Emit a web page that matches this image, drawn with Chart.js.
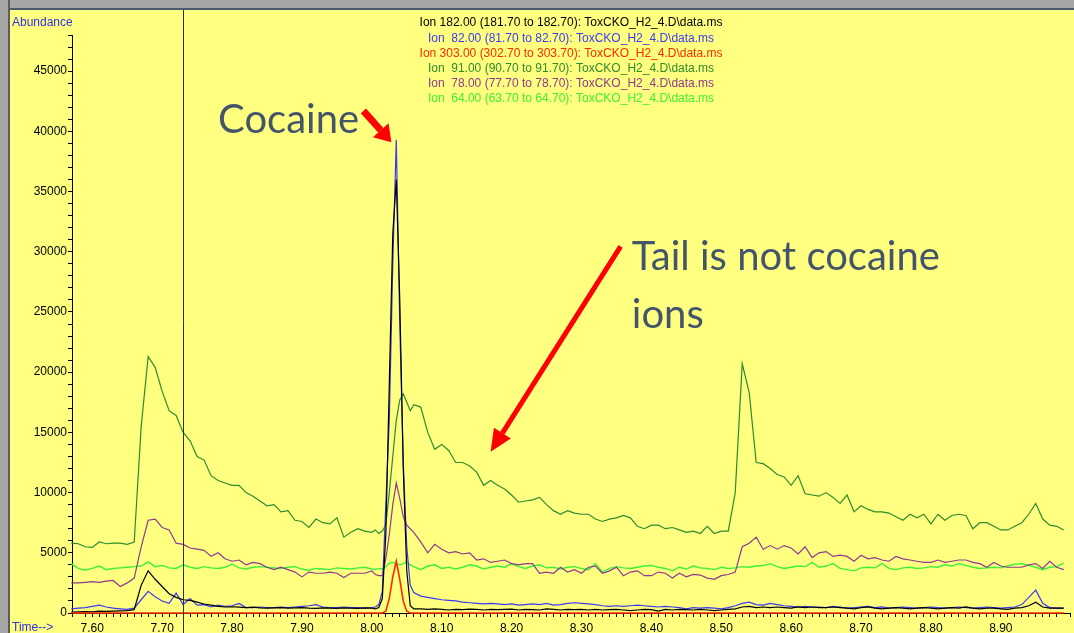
<!DOCTYPE html>
<html>
<head>
<meta charset="utf-8">
<title>Ion chromatogram - ToxCKO_H2_4</title>
<script src="https://cdn.jsdelivr.net/npm/chart.js@4/dist/chart.umd.min.js"></script>
<style>
  body { margin: 0; background: #ffff80; }
  #wrap { position: relative; width: 1074px; height: 633px; overflow: hidden; }
  #chart { position: absolute; left: 0; top: 0; background: #ffff80; }
  .frameTop { position: absolute; left: 0; top: 0; width: 1074px; height: 8px; background: #a6a6a6; border-bottom: 2px solid #4a5870; }
  .frameLeft { position: absolute; left: 0; top: 0; width: 8px; height: 633px; background: #a6a6a6; border-right: 2px solid #5c5c5c; }
</style>
</head>
<body>
<div id="wrap">
  <canvas id="chart" width="1074" height="633"></canvas>
  <div class="frameTop"></div>
  <div class="frameLeft"></div>
</div>
<script>
// Retention time (min), denser around the cocaine peak
const times = [
  7.57, 7.58, 7.59, 7.60, 7.61, 7.62, 7.63, 7.64, 7.65, 7.66,
  7.67, 7.68, 7.69, 7.70, 7.71, 7.72, 7.73, 7.74, 7.75, 7.76,
  7.77, 7.78, 7.79, 7.80, 7.81, 7.82, 7.83, 7.84, 7.85, 7.86,
  7.87, 7.88, 7.89, 7.90, 7.91, 7.92, 7.93, 7.94, 7.95, 7.96,
  7.97, 7.98, 7.99, 8.00,
  8.005, 8.01, 8.015, 8.02, 8.025, 8.03, 8.035, 8.04, 8.045, 8.05, 8.055, 8.06,
  8.07, 8.08, 8.09, 8.10, 8.11, 8.12, 8.13, 8.14, 8.15, 8.16,
  8.17, 8.18, 8.19, 8.20, 8.21, 8.22, 8.23, 8.24, 8.25, 8.26,
  8.27, 8.28, 8.29, 8.30, 8.31, 8.32, 8.33, 8.34, 8.35, 8.36,
  8.37, 8.38, 8.39, 8.40, 8.41, 8.42, 8.43, 8.44, 8.45, 8.46,
  8.47, 8.48, 8.49, 8.50, 8.51, 8.52, 8.53, 8.54, 8.55, 8.56,
  8.57, 8.58, 8.59, 8.60, 8.61, 8.62, 8.63, 8.64, 8.65, 8.66,
  8.67, 8.68, 8.69, 8.70, 8.71, 8.72, 8.73, 8.74, 8.75, 8.76,
  8.77, 8.78, 8.79, 8.80, 8.81, 8.82, 8.83, 8.84, 8.85, 8.86,
  8.87, 8.88, 8.89, 8.90, 8.91, 8.92, 8.93, 8.94, 8.95, 8.96,
  8.97, 8.98, 8.99
];

// Ion 182
const ion182 = [
  80, 100, 120, 100, 150, 130, 150, 180, 200, 280,
  2300, 3500, 2800, 2200, 1600, 1300, 1100, 1050, 900, 750,
  650, 550, 500, 520, 480, 450, 480, 420, 400, 430,
  450, 400, 420, 450, 400, 380, 420, 400, 380, 420,
  400, 380, 420, 400,
  350, 450, 1200, 6500, 19000, 31500, 36000, 26000, 12000, 3500, 600, 350,
  350, 300, 350, 300, 250, 300, 280, 320, 300, 250,
  300, 280, 300, 320, 250, 300, 280, 250, 350, 300,
  250, 300, 280, 300, 250, 300, 250, 280, 300, 250,
  200, 250, 300, 280, 150, 300, 250, 300, 280, 250,
  300, 250, 200, 250, 300, 350, 500, 550, 450, 500,
  450, 500, 450, 400, 500, 450, 500, 450, 450, 500,
  450, 400, 350, 450, 500, 400, 350, 400, 450, 400,
  350, 400, 450, 400, 350, 400, 450, 400, 500, 400,
  350, 400, 400, 350, 300, 400, 450, 600, 900, 500,
  400, 400, 400
];

// Ion 82
const ion82 = [
  350, 400, 450, 550, 650, 500, 400, 350, 300, 400,
  1100, 1800, 1350, 1000, 800, 1650, 700, 1200, 650, 700,
  500, 650, 550, 600, 800, 450, 450, 500, 450, 450,
  500, 450, 500, 550, 600, 700, 500, 450, 450, 500,
  450, 450, 400, 450,
  500, 700, 1800, 9000, 16000, 29000, 39300, 24000, 12500, 5500, 2300, 1700,
  1400, 1300, 1200, 1100, 1050, 1000, 900, 850, 800, 750,
  800, 750, 700, 750, 650, 700, 750, 700, 800, 650,
  700, 800, 850, 800, 750, 700, 600, 550, 600, 550,
  600, 650, 600, 550, 500, 550, 500, 450, 350, 450,
  400, 450, 400, 350, 450, 600, 800, 900, 700, 650,
  800, 700, 600, 550, 500, 550, 500, 500, 450, 550,
  500, 400, 450, 500, 550, 450, 500, 400, 450, 500,
  450, 400, 450, 500, 450, 400, 450, 500, 450, 400,
  450, 500, 450, 400, 450, 500, 700, 1300, 1900, 800,
  450, 400, 400
];

// Ion 303
const ion303 = [
  0, 0, 0, 0, 0, 0, 0, 0, 0, 0,
  0, 0, 0, 0, 0, 0, 0, 0, 0, 0,
  0, 0, 0, 0, 0, 0, 0, 0, 0, 0,
  0, 0, 0, 0, 0, 0, 0, 0, 0, 0,
  0, 0, 0, 0,
  0, 0, 0, 150, 1200, 3000, 4300, 2800, 1000, 150, 0, 0,
  0, 0, 0, 0, 0, 0, 0, 0, 0, 0,
  0, 0, 0, 0, 0, 0, 0, 0, 0, 0,
  0, 0, 0, 0, 0, 0, 0, 0, 0, 0,
  0, 0, 0, 0, 0, 0, 0, 0, 0, 0,
  0, 0, 0, 0, 0, 0, 0, 0, 0, 0,
  0, 0, 0, 0, 0, 0, 0, 0, 0, 0,
  0, 0, 0, 0, 0, 0, 0, 0, 0, 0,
  0, 0, 0, 0, 0, 0, 0, 0, 0, 0,
  0, 0, 0, 0, 0, 0, 0, 0, 0, 0,
  0, 0, 0
];

// Ion 91
const ion91 = [
  5800, 5750, 5500, 5450, 5900, 5750, 5800, 5800, 5700, 5900,
  15500, 21300, 20400, 18400, 16800, 16400, 15000, 14300, 13000, 12700,
  11400, 11000, 10800, 10600, 10600, 10000, 9700, 9300, 8900, 9000,
  8400, 8500, 7700, 7600, 7100, 7800, 7500, 7400, 7900, 6300,
  6700, 7000, 6800, 6700,
  6900, 6600, 6800, 7300, 10000, 13000, 16000, 17700, 18200, 17500, 16800, 17300,
  17100, 15000, 13600, 14000, 13500, 12500, 12500, 12200, 11700, 10600,
  11000, 10600, 10300, 9800, 9200, 9300, 9400, 9600, 9000, 8500,
  8200, 8500, 8300, 8200, 8200, 7800, 7600, 7800, 7900, 8100,
  7900, 7200, 7000, 7300, 7300, 7000, 7100, 6900, 6700, 6800,
  6600, 7200, 6600, 6800, 6800, 10000, 20700, 18300, 12500, 12400,
  12000, 11500, 11300, 10600, 11400, 9900, 9800, 9700, 10000, 9600,
  9100, 9800, 8400, 8900, 8600, 8400, 8400, 8300, 8000, 7700,
  8200, 7900, 8200, 7400, 8200, 7700, 8100, 8200, 8100, 7000,
  7500, 7500, 7200, 6900, 6900, 7200, 7500, 8200, 9100, 7800,
  7300, 7200, 6900
];

// Ion 78
const ion78 = [
  2500, 2500, 2550, 2600, 2550, 2650, 2700, 2200, 2500, 2900,
  5500, 7700, 7800, 7100, 6900, 5800, 5700, 5400, 5300, 5200,
  4700, 5000, 4500, 4300, 4400, 4000, 4200, 4100, 3800, 3600,
  3800, 3600, 3400, 3000, 3400, 3300, 3300, 3400, 3300, 2950,
  3300, 3300, 3300, 3500,
  3200, 3100, 3100, 4500, 6500, 9000, 10800, 9500, 8000, 7300, 7000, 6700,
  5900, 5000, 5700, 5300, 5000, 5100, 4900, 5000, 4400, 4500,
  4200, 4300, 4400, 4100, 4000, 4100, 4100, 3300, 3400, 3300,
  3800, 3400, 3600, 3300, 3800, 3900, 3300, 3500, 3800, 3100,
  3400, 3500, 3100, 3100, 3400, 3300, 2900, 3300, 3000, 3200,
  3150, 2900, 2800, 3100, 3200, 3400, 5500, 5800, 6300, 5300,
  5600, 5300, 5600, 5400, 4900, 5500, 4600, 5000, 5100, 4700,
  4800, 4700, 4300, 4800, 4500, 4600, 4400, 4300, 4700, 4500,
  4400, 4300, 4200, 4200, 4400, 4200, 4300, 4400, 4400, 4200,
  4100, 3800, 4200, 3900, 3800, 3800, 3800, 4000, 4100, 3700,
  4300, 3800, 3600
];

// Ion 64
const ion64 = [
  4100, 3700, 3550, 3700, 3900, 3600, 3700, 3750, 3800, 3850,
  3900, 4250, 3850, 3950, 3750, 3700, 4000, 3800, 3700, 3850,
  3750, 3700, 3800, 4050, 3750, 3650, 3800, 3850, 3800, 3750,
  3700, 3800, 3850, 3650, 3550, 3700, 3650, 3600, 3750, 3700,
  3650, 3750, 3800, 3650,
  3600, 3700, 3650, 3850, 4150, 4200, 4100, 4000, 4100, 4250, 4000, 3850,
  3600, 3900, 4000, 3700, 3800, 3650, 3800, 4000, 3900, 3650,
  3800, 3900, 3800, 4100, 3850, 3700, 3900, 4000, 3750, 3800,
  3650, 3800, 3850, 3700, 3600, 4100, 3400, 3700, 3850, 3750,
  3700, 3800, 3900, 3950, 3800, 3700, 3500, 3800, 3650, 3900,
  3750, 3700, 3600, 3800, 3700, 3750, 3850, 3800, 3900, 3950,
  4100, 3850, 3700, 3800, 3900, 3850, 4200, 3800, 3900, 4100,
  3700, 3600, 3500, 3750, 3800, 3750, 4100, 3700, 3600, 3750,
  3800, 3700, 3750, 3850, 3800, 4000, 3900, 4100, 3950, 3800,
  3700, 3750, 3800, 3750, 3900, 4050, 4100, 3950, 3800, 3600,
  3800, 3850, 4150
];

const ionLabels = [
  "Ion 182.00 (181.70 to 182.70): ToxCKO_H2_4.D\\data.ms",
  "Ion  82.00 (81.70 to 82.70): ToxCKO_H2_4.D\\data.ms",
  "Ion 303.00 (302.70 to 303.70): ToxCKO_H2_4.D\\data.ms",
  "Ion  91.00 (90.70 to 91.70): ToxCKO_H2_4.D\\data.ms",
  "Ion  78.00 (77.70 to 78.70): ToxCKO_H2_4.D\\data.ms",
  "Ion  64.00 (63.70 to 64.70): ToxCKO_H2_4.D\\data.ms"
];
const ionColors = ["#000000", "#3a3af0", "#ff2a00", "#2e8b2e", "#8e3a8e", "#3cf03c"];
const ionWidths = [1.2, 1.2, 1.6, 1.2, 1.2, 1.4];
const ionOrder = [1, 2, 0, 3, 4, 5]; // red drawn on top, as in the original trace
const ionSeries = [ion182, ion82, ion303, ion91, ion78, ion64];

const cursorTime = 7.73;

// Annotation anchors in data units (time, abundance)
const cocaineText = { t: 7.78, v: 39900 };
const cocaineArrow = { from: { t: 7.988, v: 41700 }, to: { t: 8.028, v: 39100 } };
const tailArrow = { from: { t: 8.356, v: 30450 }, to: { t: 8.170, v: 13400 } };
const tailText = [
  { text: "Tail is not cocaine", t: 8.372, v: 28500 },
  { text: "ions", t: 8.372, v: 23650 }
];

function toPoints(values) {
  return values.map((v, i) => ({ x: times[i], y: v }));
}

function drawArrow(ctx, x1, y1, x2, y2, width, headLen, headWidth) {
  const ang = Math.atan2(y2 - y1, x2 - x1);
  const bx = x2 - headLen * Math.cos(ang);
  const by = y2 - headLen * Math.sin(ang);
  ctx.lineWidth = width;
  ctx.beginPath();
  ctx.moveTo(x1, y1);
  ctx.lineTo(bx, by);
  ctx.stroke();
  ctx.beginPath();
  ctx.moveTo(x2, y2);
  ctx.lineTo(bx + (headWidth / 2) * Math.sin(ang), by - (headWidth / 2) * Math.cos(ang));
  ctx.lineTo(bx - (headWidth / 2) * Math.sin(ang), by + (headWidth / 2) * Math.cos(ang));
  ctx.closePath();
  ctx.fill();
}

// Draws the cursor line, ion list, axis captions and the slide annotations
const overlayPlugin = {
  id: "overlay",
  afterDraw(chart) {
    const ctx = chart.ctx;
    const xs = chart.scales.x;
    const ys = chart.scales.y;
    const area = chart.chartArea;
    ctx.save();

    // cursor line
    const cx = Math.round(xs.getPixelForValue(cursorTime)) + 0.5;
    ctx.strokeStyle = "#303030";
    ctx.lineWidth = 1;
    ctx.beginPath();
    ctx.moveTo(cx, 10);
    ctx.lineTo(cx, chart.height);
    ctx.stroke();

    // ion list
    ctx.font = '12px "Liberation Sans", Arial, sans-serif';
    ctx.textAlign = "center";
    ctx.textBaseline = "middle";
    const midX = (area.left + area.right) / 2;
    chart.data.datasets.forEach((ds, i) => {
      ctx.fillStyle = ds.borderColor;
      ctx.fillText(ds.label, midX, 23 + i * 15.2);
    });

    // axis captions
    ctx.textAlign = "left";
    ctx.fillStyle = "#3030e0";
    ctx.fillText("Abundance", 12, 23);
    ctx.fillText("Time-->", 12, 628);

    // annotations
    ctx.fillStyle = "#44546a";
    ctx.textBaseline = "alphabetic";
    ctx.font = '40px Lato, "Open Sans", sans-serif';
    ctx.fillText("Cocaine", xs.getPixelForValue(cocaineText.t), ys.getPixelForValue(cocaineText.v));
    tailText.forEach((line) => {
      ctx.fillText(line.text, xs.getPixelForValue(line.t), ys.getPixelForValue(line.v));
    });

    ctx.strokeStyle = "#ff0000";
    ctx.fillStyle = "#ff0000";
    drawArrow(ctx,
      xs.getPixelForValue(cocaineArrow.from.t), ys.getPixelForValue(cocaineArrow.from.v),
      xs.getPixelForValue(cocaineArrow.to.t), ys.getPixelForValue(cocaineArrow.to.v),
      7, 16, 21);
    drawArrow(ctx,
      xs.getPixelForValue(tailArrow.from.t), ys.getPixelForValue(tailArrow.from.v),
      xs.getPixelForValue(tailArrow.to.t), ys.getPixelForValue(tailArrow.to.v),
      5, 22, 20);

    ctx.restore();
  }
};

Chart.defaults.font.family = '"Liberation Sans", Arial, sans-serif';
Chart.defaults.font.size = 12;
Chart.defaults.color = "#000000";

const ctx = document.getElementById("chart").getContext("2d");
const chromChart = new Chart(ctx, {
  type: "line",
  data: {
    datasets: ionSeries.map((values, i) => ({
      label: ionLabels[i],
      data: toPoints(values),
      borderColor: ionColors[i],
      borderWidth: ionWidths[i],
      order: ionOrder[i],
      pointRadius: 0,
      tension: 0,
      clip: false
    }))
  },
  options: {
    responsive: false,
    animation: false,
    events: [],
    layout: { padding: { left: 0, right: 2, top: 35, bottom: 0 } },
    plugins: {
      legend: { display: false },
      title: { display: false },
      tooltip: { enabled: false }
    },
    scales: {
      x: {
        type: "linear",
        min: 7.571,
        max: 8.999,
        afterFit: (scale) => { scale.height = 20; },
        border: { display: true, color: "#000000", width: 1 },
        grid: { drawOnChartArea: false, drawTicks: true, tickLength: 4, color: "#000000" },
        ticks: {
          stepSize: 0.01,
          autoSkip: false,
          maxRotation: 0,
          minRotation: 0,
          padding: 4,
          callback: (value) => {
            const r = Math.round(value * 10) / 10;
            return Math.abs(value - r) < 1e-6 ? r.toFixed(2) : "";
          }
        }
      },
      y: {
        min: 0,
        max: 48000,
        afterFit: (scale) => { scale.width = 72; },
        border: { display: true, color: "#000000", width: 1 },
        grid: { drawOnChartArea: false, drawTicks: true, tickLength: 4, color: "#000000" },
        ticks: {
          stepSize: 1000,
          autoSkip: false,
          padding: 1,
          callback: (value) => (Math.abs(value % 5000) < 1e-6 ? String(Math.round(value)) : "")
        }
      }
    }
  },
  plugins: [overlayPlugin]
});
</script>
</body>
</html>
